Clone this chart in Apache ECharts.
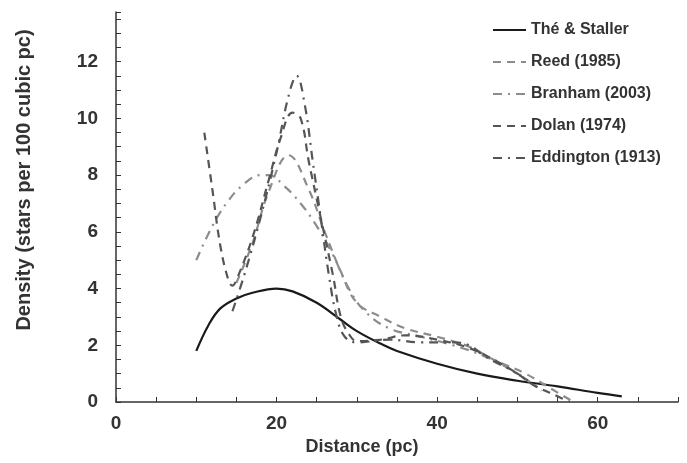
<!DOCTYPE html>
<html>
<head>
<meta charset="utf-8">
<script src="https://cdn.jsdelivr.net/npm/echarts@6/dist/echarts.min.js"></script>
<style>
	html, body { margin: 0; padding: 0; background: #fff; }
	#densityChart { width: 687px; height: 463px; }
</style>
</head>
<body>
<div id="densityChart"></div>
<script>
	// values (distance pc, density)
	var theX = [10, 11.5, 13, 15, 17, 20, 22, 25, 28, 30, 33, 35, 40, 45, 50, 55, 60, 63];
	var theY = [1.8, 2.7, 3.3, 3.65, 3.85, 4.0, 3.9, 3.5, 2.9, 2.5, 2.05, 1.8, 1.35, 1.0, 0.75, 0.55, 0.32, 0.2];

	var reedX = [15, 17, 19, 21.5, 24, 26, 28, 30, 33, 36, 40, 44, 47, 51, 54, 57];
	var reedY = [4.2, 5.6, 7.4, 8.7, 7.5, 6.0, 4.6, 3.5, 3.0, 2.6, 2.3, 1.95, 1.5, 1.0, 0.5, 0];

	var branhamX = [10, 12, 14, 16, 18, 19, 21, 23, 25, 27, 29, 31, 34, 38, 42, 46, 50, 53];
	var branhamY = [5.0, 6.2, 7.1, 7.7, 8.0, 8.0, 7.6, 7.0, 6.2, 5.2, 4.0, 3.2, 2.6, 2.3, 2.0, 1.6, 1.0, 0.4];

	var dolanX = [11, 12, 13, 14, 14.5, 15, 17, 19, 20.5, 22, 23, 24, 25.5, 27, 28, 29, 30, 33, 36, 40, 44, 47, 50, 52, 55, 56.5];
	var dolanY = [9.5, 7.5, 5.5, 4.3, 4.1, 4.3, 5.8, 7.8, 9.3, 10.2, 10.0, 8.5, 6.5, 4.5, 3.0, 2.4, 2.15, 2.2, 2.35, 2.2, 1.9, 1.5, 1.0, 0.6, 0.2, 0];

	var eddX = [14.5, 16, 18, 20, 21.5, 22.5, 23.5, 24.5, 25.5, 26.5, 27.5, 28.5, 30, 34, 38, 42, 44, 46, 50, 52];
	var eddY = [3.2, 4.5, 6.5, 8.8, 10.8, 11.5, 10.5, 8.5, 6.5, 4.5, 3.0, 2.3, 2.1, 2.2, 2.1, 2.1, 2.0, 1.6, 1.0, 0.6];

	function pairs(xs, ys){
		var out = [];
		for (var i = 0; i < xs.length; i++) out.push([xs[i], ys[i]]);
		return out;
	}

	var font = "'Liberation Sans', Arial, sans-serif";

	function line(name, xs, ys, color, type, width){
		return {
			name: name,
			type: 'line',
			smooth: 0.4,
			symbol: 'none',
			showSymbol: false,
			data: pairs(xs, ys),
			lineStyle: { color: color, width: width, type: type },
			itemStyle: { color: color }
		};
	}

	var myEchart = echarts.init(document.getElementById("densityChart"));
	var option = {
		animation: false,
		grid: { left: 116, right: 9, top: 12, bottom: 61 },
		legend: {
			orient: 'vertical',
			left: 487,
			top: 17,
			itemWidth: 33,
			itemHeight: 12,
			itemGap: 16,
			itemStyle: { opacity: 0 },
			textStyle: { fontFamily: font, fontWeight: 'bold', fontSize: 16, color: '#333' }
		},
		xAxis: {
			type: 'value',
			min: 0, max: 70, interval: 5,
			name: 'Distance (pc)',
			nameLocation: 'middle',
			nameGap: 18,
			nameTextStyle: { fontFamily: font, fontWeight: 'bold', fontSize: 18, color: '#333', padding: [0, 70, 0, 0] },
			axisLine: { lineStyle: { color: '#333', width: 1.5 } },
			axisTick: { inside: true, length: 5, lineStyle: { color: '#333' } },
			splitLine: { show: false },
			axisLabel: {
				fontFamily: font, fontWeight: 'bold', fontSize: 19, color: '#333', margin: 12,
				formatter: function(v){ return v % 20 === 0 ? v : ''; }
			}
		},
		yAxis: {
			type: 'value',
			min: 0, max: 13.75, interval: 0.5,
			name: 'Density (stars per 100 cubic pc)',
			nameLocation: 'middle',
			nameGap: 82,
			nameTextStyle: { fontFamily: font, fontWeight: 'bold', fontSize: 20, color: '#333', padding: [0, 0, 0, 54] },
			axisLine: { show: true, lineStyle: { color: '#333', width: 1.5 } },
			axisTick: { show: true, inside: true, length: 5, lineStyle: { color: '#333' } },
			splitLine: { show: false },
			axisLabel: {
				fontFamily: font, fontWeight: 'bold', fontSize: 19, color: '#333', margin: 18,
				formatter: function(v){ return (v % 2 === 0 && v <= 12) ? v : ''; }
			}
		},
		series: [
			line('Thé & Staller', theX, theY, '#1a1a1a', 'solid', 2.2),
			line('Reed (1985)', reedX, reedY, '#8c8c8c', [8, 6], 2.2),
			line('Branham (2003)', branhamX, branhamY, '#8c8c8c', [9, 6, 2, 6], 2.2),
			line('Dolan (1974)', dolanX, dolanY, '#555555', [8, 6], 2.2),
			line('Eddington (1913)', eddX, eddY, '#555555', [9, 6, 2, 6], 2.2)
		]
	};
	myEchart.setOption(option);
</script>
</body>
</html>
